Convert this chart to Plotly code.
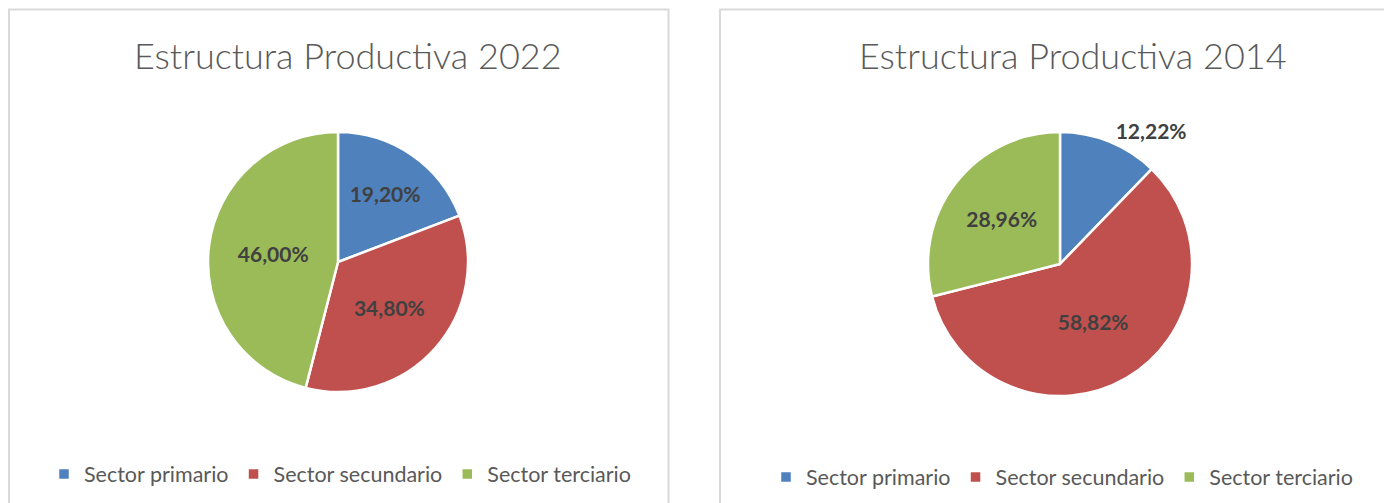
import plotly.graph_objects as go

W, H = 1392, 503
OFF = 8  # default page (body) margin in the written html

sectors = ["Sector primario", "Sector secundario", "Sector terciario"]
values_2022 = [19.20, 34.80, 46.00]
values_2014 = [12.22, 58.82, 28.96]
labels_2022 = ["19,20%", "34,80%", "46,00%"]
labels_2014 = ["12,22%", "58,82%", "28,96%"]
titles = ["Estructura Productiva 2022", "Estructura Productiva 2014"]
colors = ["#4F81BD", "#C0504D", "#9BBB59"]

# pie legends are keyed by label across traces; a zero-width suffix keeps
# the second chart's legend separate while showing the same text
sectors_2 = [s + "\u200b" for s in sectors]


def px_x(v):
    return (v - OFF) / W


def px_y(v):
    return 1 - (v - OFF) / H


label_font = dict(family="Lato", size=21, color="#404040", weight="bold")

fig = go.Figure()

fig.add_trace(go.Pie(
    labels=sectors, values=values_2022, text=labels_2022,
    texttemplate="%{text}", textinfo="text",
    textposition="inside", insidetextorientation="horizontal",
    sort=False, direction="clockwise", rotation=0,
    marker=dict(colors=colors, line=dict(color="white", width=2.5)),
    textfont=label_font,
    domain=dict(x=[px_x(208), px_x(468)], y=[px_y(392), px_y(132)]),
    legend="legend", hoverinfo="label+percent", automargin=False,
))

fig.add_trace(go.Pie(
    labels=sectors_2, values=values_2014, text=labels_2014,
    texttemplate="%{text}", textinfo="text",
    textposition=["outside", "inside", "inside"], insidetextorientation="horizontal",
    sort=False, direction="clockwise", rotation=0,
    marker=dict(colors=colors, line=dict(color="white", width=2.5)),
    textfont=label_font, outsidetextfont=label_font,
    domain=dict(x=[px_x(928), px_x(1192)], y=[px_y(396), px_y(132)]),
    legend="legend2", hoverinfo="label+percent", automargin=False,
))

shapes = [
    dict(type="rect", xref="paper", yref="paper",
         x0=px_x(9), x1=px_x(668.5), y0=-0.1, y1=px_y(9.5),
         line=dict(color="#D9D9D9", width=2), fillcolor="rgba(0,0,0,0)", layer="below"),
    dict(type="rect", xref="paper", yref="paper",
         x0=px_x(720), x1=1.1, y0=-0.1, y1=px_y(9.5),
         line=dict(color="#D9D9D9", width=2), fillcolor="rgba(0,0,0,0)", layer="below"),
]

title_font = dict(family="Lato", size=36, color="#595959", weight=300)
annotations = [
    dict(text=titles[0], x=px_x(348), y=px_y(55), xref="paper", yref="paper",
         showarrow=False, xanchor="center", yanchor="middle", font=title_font),
    dict(text=titles[1], x=px_x(1073), y=px_y(55), xref="paper", yref="paper",
         showarrow=False, xanchor="center", yanchor="middle", font=title_font),
]

legend_style = dict(
    orientation="h", xanchor="left", yanchor="middle",
    font=dict(family="Lato", size=21.5, color="#595959"),
    bgcolor="rgba(0,0,0,0)", traceorder="normal",
)

fig.update_layout(
    width=W, height=H,
    margin=dict(l=0, r=0, t=0, b=0),
    paper_bgcolor="white", plot_bgcolor="white",
    font=dict(family="Lato"),
    shapes=shapes, annotations=annotations,
    legend=dict(x=px_x(44), y=px_y(474), **legend_style),
    legend2=dict(x=px_x(766), y=px_y(477), **legend_style),
    showlegend=True,
)

fig.write_html("out.html")
